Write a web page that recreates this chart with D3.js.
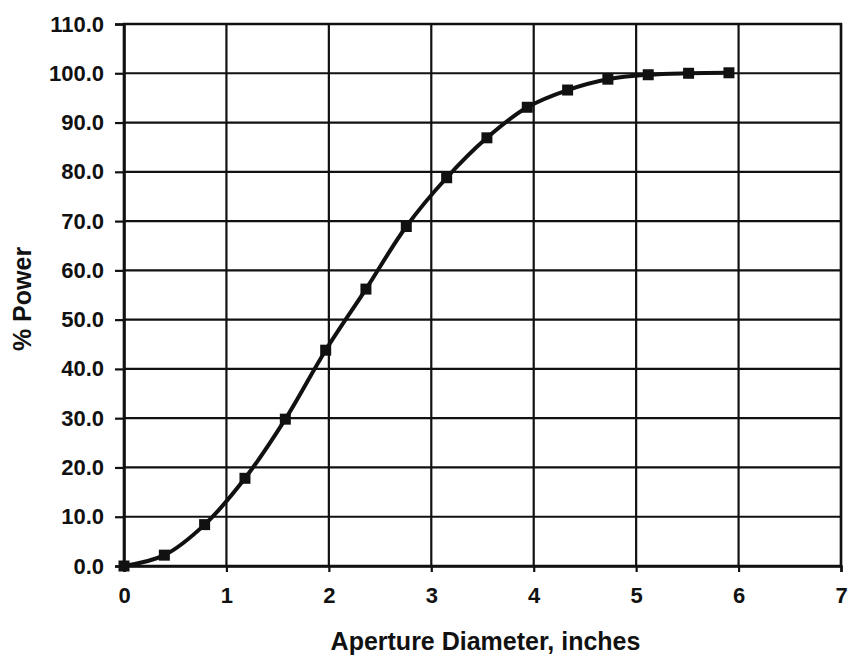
<!DOCTYPE html>
<html>
<head>
<meta charset="utf-8">
<script src="https://cdn.jsdelivr.net/npm/d3@7"></script>
<style>
  html, body { margin: 0; padding: 0; background: #fff; }
  svg text { font-family: "Liberation Sans", Arial, sans-serif; font-weight: bold; fill: #111; }
</style>
</head>
<body>
<svg id="chart" width="848" height="660"></svg>
<script>
// Data (aperture diameter in inches, % power)
const diameters = [0, 0.394, 0.787, 1.181, 1.575, 1.969, 2.362, 2.756, 3.150, 3.543, 3.937, 4.331, 4.724, 5.118, 5.512, 5.906];
const powerPct  = [0, 2.2, 8.4, 17.8, 29.8, 43.8, 56.2, 68.9, 78.8, 86.9, 93.1, 96.6, 98.8, 99.7, 100.0, 100.1];
const xTicks = [0, 1, 2, 3, 4, 5, 6, 7];
const yTicks = [0, 10, 20, 30, 40, 50, 60, 70, 80, 90, 100, 110];
const xTitle = "Aperture Diameter, inches";
const yTitle = "% Power";

const svg = d3.select("#chart");
const margin = { left: 124, right: 7, top: 24, bottom: 94 };
const W = 848, H = 660;
const x = d3.scaleLinear().domain([0, 7]).range([margin.left, W - margin.right]);
const y = d3.scaleLinear().domain([0, 110]).range([H - margin.bottom, margin.top]);

const ink = "#111";

// gridlines
const grid = svg.append("g");
grid.selectAll("line.v").data(xTicks).enter().append("line")
  .attr("x1", d => x(d)).attr("x2", d => x(d))
  .attr("y1", y(0)).attr("y2", y(110))
  .attr("stroke", ink).attr("stroke-width", 2.2);
grid.selectAll("line.h").data(yTicks).enter().append("line")
  .attr("y1", d => y(d)).attr("y2", d => y(d))
  .attr("x1", x(0)).attr("x2", x(7))
  .attr("stroke", ink).attr("stroke-width", 2.2);

// axes
const xAxis = d3.axisBottom(x).tickValues(xTicks).tickFormat(d3.format("d")).tickSize(6).tickPadding(15);
const yAxis = d3.axisLeft(y).tickValues(yTicks).tickFormat(d3.format(".1f")).tickSize(9).tickPadding(11);

const gx = svg.append("g").attr("transform", `translate(0,${y(0)})`).call(xAxis);
const gy = svg.append("g").attr("transform", `translate(${x(0)},0)`).call(yAxis);
[gx, gy].forEach(g => {
  g.select(".domain").attr("stroke", ink).attr("stroke-width", 2.5);
  g.selectAll(".tick line").attr("stroke", ink).attr("stroke-width", 2.2);
  g.selectAll(".tick text").attr("font-size", 22).attr("fill", ink)
    .style("font-family", '"Liberation Sans", Arial, sans-serif').style("font-weight", "bold");
});

// plot border
svg.append("rect")
  .attr("x", x(0)).attr("y", y(110))
  .attr("width", x(7) - x(0)).attr("height", y(0) - y(110))
  .attr("fill", "none").attr("stroke", ink).attr("stroke-width", 2.5);

// curve
const pts = diameters.map((d, i) => [d, powerPct[i]]);
const line = d3.line().x(d => x(d[0])).y(d => y(d[1])).curve(d3.curveCatmullRom.alpha(0.5));
svg.append("path").attr("d", line(pts))
  .attr("fill", "none").attr("stroke", ink).attr("stroke-width", 4);

// markers
const ms = 11;
svg.selectAll("rect.m").data(pts).enter().append("rect")
  .attr("x", d => x(d[0]) - ms / 2).attr("y", d => y(d[1]) - ms / 2)
  .attr("width", ms).attr("height", ms).attr("fill", ink);

// axis titles
svg.append("text").attr("x", (x(0) + x(7)) / 2 + 3).attr("y", 650)
  .attr("text-anchor", "middle").attr("font-size", 25).text(xTitle);
svg.append("text").attr("transform", `translate(31,${(y(0) + y(110)) / 2 + 4}) rotate(-90)`)
  .attr("text-anchor", "middle").attr("font-size", 25).text(yTitle);
</script>
</body>
</html>
